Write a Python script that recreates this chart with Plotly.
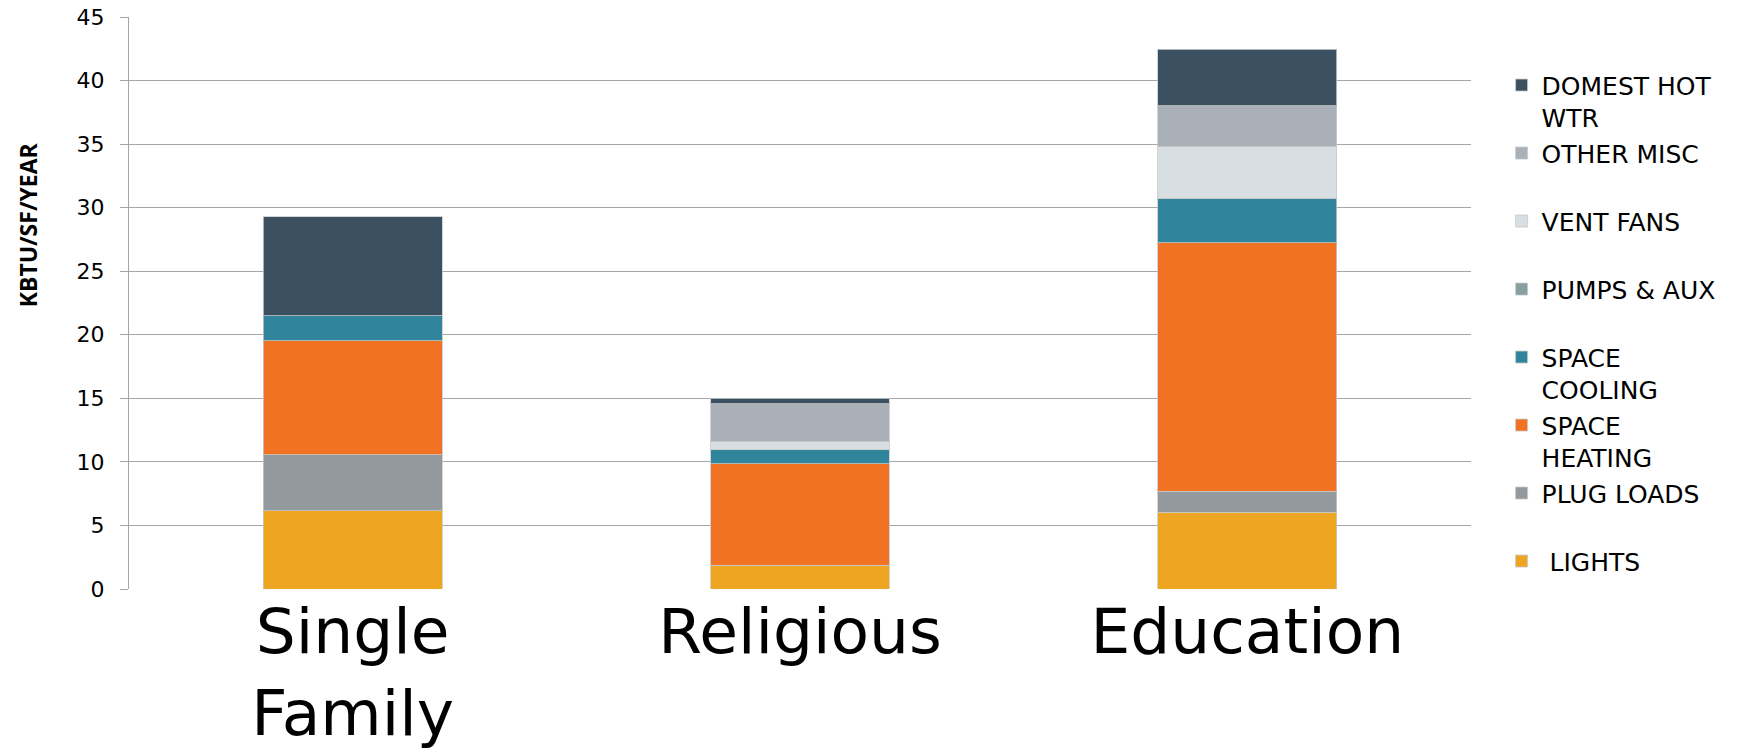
import plotly.graph_objects as go

categories = ["Single Family", "Religious", "Education"]
tick_labels = ["Single<br>Family", "Religious", "Education"]

series_names = ["LIGHTS", "PLUG LOADS", "SPACE HEATING", "SPACE COOLING",
                "PUMPS & AUX", "VENT FANS", "OTHER MISC", "DOMEST HOT WTR"]
legend_labels = [" LIGHTS<br>&nbsp;", "PLUG LOADS<br>&nbsp;", "SPACE<br>HEATING", "SPACE<br>COOLING",
                 "PUMPS & AUX<br>&nbsp;", "VENT FANS<br>&nbsp;", "OTHER MISC<br>&nbsp;", "DOMEST HOT<br>WTR"]

lights = [6.15, 1.86, 6.05]
plug_loads = [4.4, 0.0, 1.66]
space_heating = [9.0, 8.0, 19.55]
space_cooling = [1.95, 1.1, 3.5]
pumps_aux = [0.0, 0.0, 0.0]
vent_fans = [0.0, 0.63, 4.02]
other_misc = [0.0, 3.0, 3.22]
domest_hot_wtr = [7.8, 0.4, 4.45]

values = [lights, plug_loads, space_heating, space_cooling, pumps_aux, vent_fans, other_misc, domest_hot_wtr]
colors = ["#EDA522", "#93999C", "#F27224", "#30849C", "#87A09F", "#D8DFE3", "#AAB0B7", "#3B5060"]

fig = go.Figure()
for name, lab, vals, col in zip(series_names, legend_labels, values, colors):
    fig.add_trace(go.Bar(
        x=categories, y=vals, name=lab, marker_color=col,
        marker_line=dict(width=1, color="rgba(200,200,200,0.8)"),
        hovertemplate=name + ": %{y}<extra></extra>",
    ))

fig.update_layout(
    width=1741, height=749,
    barmode="stack", bargap=0.6,
    plot_bgcolor="white", paper_bgcolor="white",
    margin=dict(l=129, r=270, t=17, b=160, autoexpand=False),
    font=dict(family="DejaVu Sans", color="#000000"),
    legend=dict(
        traceorder="reversed", valign="top",
        x=1.0228, xanchor="left", y=0.9208, yanchor="top",
        font=dict(size=25, family="DejaVu Sans", color="#000000"),
        itemclick=False,
    ),
    xaxis=dict(
        tickmode="array", tickvals=categories, ticktext=tick_labels,
        tickfont=dict(size=63, family="DejaVu Sans", color="#000000"),
        showline=False, showgrid=False, ticks="",
        range=[-0.5, 2.5], automargin=False,
    ),
    yaxis=dict(
        range=[0, 45], dtick=5, tick0=0,
        showgrid=True, gridcolor="#A6A6A6", gridwidth=1,
        showline=True, linecolor="#A6A6A6", linewidth=1,
        ticks="outside", ticklen=8, tickcolor="#A6A6A6",
        tickfont=dict(size=22, family="DejaVu Sans", color="#000000"),
        ticklabelstandoff=11,
        zeroline=False, automargin=False,
    ),
    annotations=[dict(
        text="<b>KBTU/SF/YEAR</b>", textangle=-90,
        xref="paper", yref="paper", x=-0.0755, y=0.637,
        xanchor="center", yanchor="middle", showarrow=False,
        font=dict(size=23, family="Open Sans", color="#000000"),
    )],
)

fig.write_html("out.html")
